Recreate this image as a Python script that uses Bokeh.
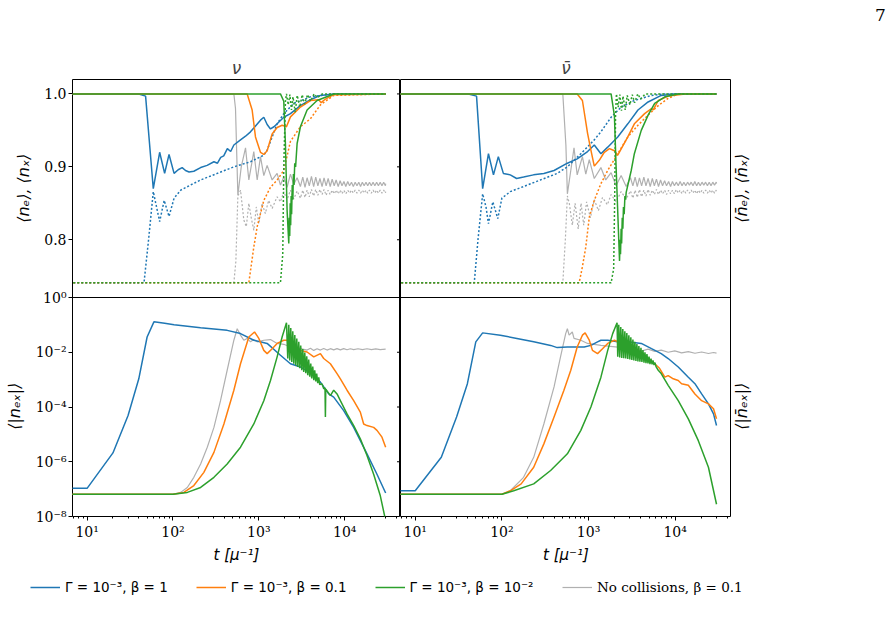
import math
from bokeh.plotting import figure
from bokeh.models import Range1d, LogScale, FixedTicker, Span, Legend, LegendItem
from bokeh.core.properties import value
from bokeh.layouts import row, column
from bokeh.embed import file_html
from bokeh.resources import INLINE

# ------------------------------------------------------------------ data
# t in units of 1/mu.  Upper panels: <n_e> (solid) and <n_x> (dotted);
# lower panels: <|n_ex|>.  "nu" = neutrinos, "nubar" = antineutrinos.

# ---- Gamma = 1e-3, beta = 1 (blue)
nu_blue_ne_t = [5, 40, 48, 59, 70, 80, 90, 103, 115, 128, 140, 154, 175, 210, 250, 300, 330, 360, 390, 430,
                470, 512, 612, 700, 800, 900, 1045, 1143, 1250, 1367, 1500, 1634, 1953, 2335, 3050, 3990, 5215, 7450, 30000]
nu_blue_ne = [1.0, 1.0, 0.997, 0.870, 0.920, 0.891, 0.917, 0.891, 0.896, 0.899, 0.895, 0.893, 0.894, 0.899, 0.902, 0.907,
              0.905, 0.913, 0.915, 0.925, 0.921, 0.930, 0.937, 0.942, 0.948, 0.955, 0.964, 0.968, 0.958, 0.952, 0.955,
              0.959, 0.968, 0.973, 0.984, 0.992, 0.998, 1.0, 1.0]
nu_blue_nx_t = [5, 46, 52, 59, 62, 70, 79, 90, 103, 123, 160, 210, 328, 512, 800, 1143, 1250, 1429, 1634, 1953,
                2553, 3990, 7450, 30000]
nu_blue_nx = [0.741, 0.741, 0.80, 0.866, 0.854, 0.825, 0.854, 0.832, 0.857, 0.868, 0.875, 0.882, 0.891, 0.900, 0.907,
              0.916, 0.923, 0.941, 0.959, 0.973, 0.987, 0.996, 1.0, 1.0]
nu_blue_nex_t = [5, 10, 20, 30, 40, 50, 60, 80, 103, 210, 428, 612, 874, 1250, 1786, 2335, 3050, 3990, 5215, 6517,
                 7450, 9736, 12730, 18190, 23770, 30000]
nu_blue_nex = [1.07e-7, 1.07e-7, 2.1e-6, 4.9e-5, 1.07e-3, 3.6e-2, 1.29e-1, 1.15e-1, 1.02e-1, 7.9e-2, 6.3e-2, 4.8e-2,
               2.75e-2, 2.1e-2, 7.8e-3, 3.8e-3, 2.9e-3, 1.74e-3, 8.1e-4, 3.0e-4, 2.3e-4, 7.4e-5, 1.8e-5, 1.95e-6,
               3.5e-7, 7.2e-8]

nubar_blue_ne_t = [5, 41, 51, 60, 70, 80, 91, 104, 125, 148, 178, 232, 305, 400, 570, 740, 975, 1165, 1390, 1665,
                   2173, 2840, 3720, 4870, 6900, 9900, 30000]
nubar_blue_ne = [1.0, 1.0, 0.997, 0.870, 0.918, 0.889, 0.914, 0.891, 0.889, 0.884, 0.886, 0.889, 0.891, 0.895, 0.905,
                 0.911, 0.921, 0.930, 0.918, 0.927, 0.941, 0.959, 0.978, 0.989, 0.998, 1.0, 1.0]
nubar_blue_nx_t = [5, 48, 53, 60, 65.6, 70, 78.6, 89.7, 100, 125, 178, 278, 436, 570, 815, 1165, 1390, 1822, 2378,
                   3380, 5330, 7600, 30000]
nubar_blue_nx = [0.741, 0.741, 0.80, 0.863, 0.845, 0.822, 0.852, 0.829, 0.857, 0.866, 0.873, 0.882, 0.891, 0.900,
                 0.918, 0.937, 0.948, 0.968, 0.982, 0.991, 0.998, 1.0, 1.0]
nubar_blue_nex_t = [5, 10, 20, 30, 40, 50, 60, 96, 149, 233, 365, 435, 570, 891, 1065, 1270, 1390, 1665, 2173, 2840,
                    4060, 5330, 6900, 8300, 10850, 14180, 16900, 20200, 24200, 27700, 30000]
nubar_blue_nex = [8.7e-8, 8.7e-8, 1.45e-6, 4.3e-5, 7.1e-4, 2.4e-2, 5.1e-2, 4.2e-2, 3.2e-2, 2.4e-2, 1.78e-2, 1.48e-2,
                  1.55e-2, 1.55e-2, 1.78e-2, 2.4e-2, 2.75e-2, 2.75e-2, 2.4e-2, 2.4e-2, 2.1e-2, 1.35e-2, 8.9e-3, 5.9e-3,
                  2.9e-3, 1.23e-3, 7.1e-4, 3.0e-4, 1.3e-4, 5.6e-5, 2.1e-5]

# ---- Gamma = 1e-3, beta = 0.1 (orange)
nu_orange_ne_t = [5, 732, 836, 914, 1045, 1143, 1250, 1429, 1634, 1867, 2099, 2335, 3050, 3990, 4988, 5330, 5960,
                  7450, 30000]
nu_orange_ne = [1.0, 1.0, 0.978, 0.941, 0.920, 0.917, 0.922, 0.945, 0.954, 0.957, 0.955, 0.9685, 0.982, 0.991, 0.992,
                0.988, 0.993, 0.999, 1.0]
nu_orange_nx_t = [5, 765, 874, 957, 1143, 1367, 1634, 1953, 2335, 3050, 3990, 5215, 7450, 30000]
nu_orange_nx = [0.741, 0.741, 0.790, 0.818, 0.854, 0.872, 0.882, 0.895, 0.935, 0.955, 0.966, 0.985, 0.998, 1.0]
nu_orange_nex_t = [5, 100, 134, 175, 229, 300, 392, 512, 612, 765, 891, 1000, 1143, 1250, 1429, 1634, 1953, 2135,
                   2335, 2553, 3050, 3648, 4363, 5215, 5700, 6813, 8145, 8906, 10646, 12730, 15210, 16630, 18190,
                   21740, 23770, 27180, 30000]
nu_orange_nex = [6.5e-8, 6.5e-8, 7.6e-8, 1.35e-7, 4.1e-7, 2.2e-6, 2.4e-5, 4.1e-4, 3.8e-3, 3.6e-2, 5.5e-2, 3.2e-2,
                 1.17e-2, 8.9e-3, 1.35e-2, 2.1e-2, 2.75e-2, 2.75e-2, 1.78e-2, 8.9e-3, 1.17e-2, 1.02e-2, 6.8e-3,
                 8.9e-3, 5.9e-3, 3.8e-3, 1.66e-3, 1.07e-3, 4.1e-4, 1.7e-4, 6.5e-5, 2.4e-5, 2.1e-5, 1.8e-5, 1.4e-5,
                 7.9e-6, 3.4e-6]

nubar_orange_ne_t = [5, 740, 850, 975, 1065, 1165, 1330, 1520, 1745, 1990, 2173, 2840, 3380, 4440, 5330, 5580, 6380,
                     8300, 13000, 30000]
nubar_orange_ne = [1.0, 1.0, 0.991, 0.946, 0.923, 0.901, 0.909, 0.920, 0.925, 0.922, 0.916, 0.941, 0.959, 0.973,
                   0.980, 0.978, 0.991, 0.997, 1.0, 1.0]
nubar_orange_nx_t = [5, 780, 850, 930, 1020, 1165, 1390, 1665, 2173, 2840, 3720, 4870, 6380, 8300, 10850, 30000]
nubar_orange_nx = [0.741, 0.741, 0.763, 0.790, 0.831, 0.854, 0.877, 0.895, 0.918, 0.941, 0.957, 0.971, 0.984, 0.994,
                   1.0, 1.0]
nubar_orange_nex_t = [5, 100, 125, 167, 233, 305, 400, 520, 624, 740, 850, 914, 1020, 1110, 1270, 1450, 1665, 1990,
                      2378, 2840, 3380, 4060, 4870, 5800, 6600, 7600, 8300, 9500, 10850, 11850, 14180, 16900, 20200,
                      24200, 27700, 30000]
nubar_orange_nex = [6.5e-8, 6.5e-8, 8.7e-8, 1.55e-7, 6.3e-7, 4.5e-6, 4.3e-5, 4.1e-4, 2.2e-3, 1.55e-2, 4.2e-2,
                    5.1e-2, 2.75e-2, 1.17e-2, 8.9e-3, 1.35e-2, 2.1e-2, 2.75e-2, 2.1e-2, 1.35e-2, 8.9e-3, 6.8e-3,
                    5.0e-3, 3.8e-3, 2.6e-3, 1.23e-3, 1.4e-3, 1.07e-3, 9.3e-4, 7.1e-4, 6.2e-4, 3.0e-4, 1.7e-4, 1.3e-4,
                    8.6e-5, 3.7e-5]

# ---- Gamma = 1e-3, beta = 1e-2 (green)
nu_green_ne_t = [5, 1786, 1953, 2042, 2135, 2233, 2260, 2290, 2320, 2350, 2380, 2410, 2450, 2490, 2530, 2570, 2620,
                 2680, 2792, 3050, 3648, 4770, 7450, 30000]
nu_green_ne = [1.0, 1.0, 0.99, 0.93, 0.84, 0.795, 0.83, 0.805, 0.85, 0.82, 0.86, 0.835, 0.875, 0.855, 0.89, 0.875,
               0.905, 0.90, 0.932, 0.955, 0.978, 0.991, 1.0, 1.0]
nu_green_nx_t = [5, 1786, 1900, 1953, 2042, 2099, 2200, 2300, 2400, 2500, 2650, 2800, 3000, 3200, 3400, 3700, 4000,
                 4400, 4800, 5500, 30000]
nu_green_nx = [0.741, 0.741, 0.78, 0.90, 0.99, 1.0, 0.985, 0.999, 0.978, 0.996, 0.975, 0.998, 0.982, 0.999, 0.986,
               0.999, 0.990, 1.0, 0.995, 1.0, 1.0]
nu_green_nex_t = [5, 100, 147, 210, 300, 428, 612, 874, 1143, 1367, 1634, 1867, 2100,
                  2173, 2233, 2291, 2355, 2420, 2485, 2553, 2624, 2692, 2767, 2841, 2919, 2999, 3076, 3162, 3251,
                  3334, 3428, 3524, 3614, 3715, 3811, 3917, 4027, 4130, 4246, 4365, 4477, 4603, 4721, 4853, 4989,
                  5117, 5450, 5700, 5900, 5960, 6020, 6813, 7450, 8145, 8906, 10646, 12730, 15210, 18190, 21740,
                  26000, 30000]
nu_green_nex = [6.5e-8, 6.5e-8, 7.6e-8, 1.15e-7, 2.7e-7, 8.3e-7, 3.4e-6, 2.4e-5, 1.7e-4, 9.3e-4, 6.8e-3, 3.6e-2,
                1.2e-1,
                5.9e-3, 1.0e-1, 5.0e-3, 7.7e-2, 4.4e-3, 5.8e-2, 3.8e-3, 4.3e-2, 3.3e-3, 3.2e-2, 2.9e-3, 2.4e-2,
                2.6e-3, 1.75e-2, 2.2e-3, 1.3e-2, 1.9e-3, 9.7e-3, 1.7e-3, 7.1e-3, 1.45e-3, 5.4e-3, 1.27e-3, 3.9e-3,
                1.1e-3, 3.0e-3, 9.6e-4, 2.2e-3, 8.6e-4, 1.66e-3, 7.5e-4, 1.2e-3, 6.6e-4, 7.0e-4, 4.6e-4, 5.0e-4,
                4.3e-5, 4.5e-4, 2.6e-4, 4.1e-4, 3.0e-4, 1.7e-4, 5.6e-5, 2.1e-5, 6.9e-6, 1.7e-6, 3.5e-7, 5.7e-8,
                7.0e-9]

nubar_green_ne_t = [5, 1822, 1990, 2080, 2280, 2310, 2340, 2378, 2410, 2450, 2490, 2530, 2580, 2630, 2680, 2720,
                    3110, 3380, 4060, 4870, 5800, 7600, 10850, 30000]
nubar_green_ne = [1.0, 1.0, 0.97, 0.90, 0.771, 0.80, 0.78, 0.815, 0.795, 0.83, 0.815, 0.845, 0.835, 0.86, 0.855,
                  0.865, 0.895, 0.918, 0.950, 0.971, 0.987, 0.996, 1.0, 1.0]
nubar_green_nx_t = [5, 1822, 1950, 2000, 2050, 2100, 2200, 2300, 2400, 2500, 2650, 2800, 3000, 3200, 3400, 3700,
                    4000, 4500, 30000]
nubar_green_nx = [0.741, 0.741, 0.76, 0.85, 0.97, 1.0, 0.982, 0.999, 0.977, 0.997, 0.978, 0.998, 0.985, 0.999,
                  0.988, 1.0, 0.993, 1.0, 1.0]
nubar_green_nex_t = [5, 100, 137, 233, 365, 570, 815, 1065, 1390, 1665, 1900, 2135,
                     2173, 2233, 2291, 2355, 2420, 2485, 2553, 2624, 2692, 2767, 2841, 2919, 2999, 3076, 3162, 3251,
                     3334, 3428, 3524, 3614, 3715, 3811, 3917, 4027, 4130, 4246, 4365, 4477, 4603, 4721, 4853, 4989,
                     5117, 5260, 5410, 5550, 5700, 5850, 6010, 6380, 6900, 8300, 10850, 14180, 18500, 24200, 30000]
nubar_green_nex = [6.5e-8, 6.5e-8, 8.7e-8, 1.55e-7, 4.8e-7, 1.95e-6, 1.4e-5, 1.0e-4, 1.23e-3, 1.17e-2, 4.8e-2,
                   1.2e-1,
                   6.8e-3, 1.0e-1, 6.5e-3, 8.4e-2, 6.2e-3, 7.0e-2, 6.0e-3, 5.8e-2, 5.9e-3, 5.0e-2, 5.7e-3, 4.2e-2,
                   5.4e-3, 3.5e-2, 5.2e-3, 2.9e-2, 5.0e-3, 2.4e-2, 4.8e-3, 2.0e-2, 4.6e-3, 1.7e-2, 4.5e-3, 1.45e-2,
                   4.4e-3, 1.2e-2, 4.2e-3, 1.0e-2, 4.0e-3, 8.5e-3, 3.9e-3, 7.0e-3, 3.7e-3, 5.9e-3, 3.6e-3, 5.0e-3,
                   3.4e-3, 4.2e-3, 3.0e-3, 2.2e-3, 1.66e-3, 6.2e-4, 1.7e-4, 3.7e-5, 5.9e-6, 6.3e-7, 2.8e-8]

# ---- no collisions, beta = 0.1 (gray)
gray_tail_t = [3050, 3250, 3450, 3650, 3870, 4100, 4350, 4600, 4870, 5150, 5450, 5750, 6080, 6420, 6780, 7150,
               7550, 7950, 8400, 8850, 9300, 9800, 10300, 10850, 11400, 12000, 12600, 13250, 13900, 14600, 15300,
               16050, 16850, 17700, 18550, 19450, 20400, 21400, 22450, 23550, 24700, 25900, 27150, 28450, 29800,
               30000]

nu_gray_ne_t = [5, 512, 535, 570, 624, 700, 765, 874, 957, 1045, 1143, 1250, 1429, 1634, 1786, 1953, 2135, 2335,
                2553, 2792] + gray_tail_t
nu_gray_ne = [1.0, 1.0, 0.98, 0.861, 0.900, 0.926, 0.882, 0.921, 0.882, 0.914, 0.888, 0.902, 0.882, 0.891, 0.875,
              0.886, 0.872, 0.890, 0.876, 0.885,
              0.873, 0.886, 0.872, 0.885, 0.874, 0.887, 0.873, 0.886, 0.874, 0.884,
              0.873, 0.885, 0.874, 0.884, 0.873, 0.883, 0.874, 0.882, 0.873, 0.881,
              0.874, 0.880, 0.873, 0.880, 0.874, 0.879, 0.873, 0.879, 0.874, 0.879,
              0.873, 0.879, 0.874, 0.879, 0.874, 0.879, 0.874, 0.879, 0.874, 0.879,
              0.874, 0.879, 0.874, 0.879, 0.874, 0.877]
nu_gray_nx_t = [5, 512, 540, 570, 612, 669, 715, 765, 810, 874, 935, 1000, 1090, 1190, 1300, 1429, 1634, 1786, 1953,
                2135, 2335, 2553, 2792] + gray_tail_t
nu_gray_nx = [0.741, 0.741, 0.77, 0.860, 0.868, 0.827, 0.818, 0.850, 0.832, 0.813, 0.845, 0.822, 0.850, 0.836, 0.854,
              0.843, 0.859, 0.852, 0.866, 0.855, 0.868, 0.856, 0.867,
              0.857, 0.868, 0.858, 0.868, 0.859, 0.869, 0.860, 0.869, 0.861, 0.869,
              0.862, 0.869, 0.861, 0.868, 0.862, 0.868, 0.863, 0.868, 0.863, 0.868,
              0.863, 0.868, 0.863, 0.868, 0.864, 0.868, 0.864, 0.868, 0.864, 0.868,
              0.864, 0.868, 0.864, 0.868, 0.864, 0.868, 0.864, 0.868, 0.864, 0.868,
              0.864, 0.868, 0.864, 0.868, 0.864, 0.866]
nu_gray_nex_t = [5, 100, 123, 147, 175, 210, 251, 300, 358, 428, 512, 560, 612, 669, 732, 800, 874, 957, 1143, 1367,
                 1634, 1953, 2335, 3050, 3648, 3990, 4363, 4770, 5215, 5700, 6230, 6813, 7450, 8145, 8906, 9736,
                 10646, 11640, 12730, 14300, 16100, 18200, 20500, 23000, 25900, 30000]
nu_gray_nex = [6.5e-8, 6.5e-8, 7.6e-8, 1.15e-7, 2.7e-7, 8.3e-7, 3.4e-6, 1.8e-5, 1.7e-4, 2.2e-3, 2.75e-2, 7.2e-2,
               4.2e-2, 2.75e-2, 3.2e-2, 2.4e-2, 2.9e-2, 2.4e-2, 2.75e-2, 2.9e-2, 2.1e-2, 1.95e-2, 1.55e-2, 1.35e-2,
               1.2e-2, 1.4e-2, 1.17e-2, 1.35e-2, 1.2e-2, 1.38e-2, 1.2e-2, 1.35e-2, 1.22e-2, 1.36e-2, 1.22e-2,
               1.35e-2, 1.23e-2, 1.34e-2, 1.24e-2, 1.34e-2, 1.24e-2, 1.34e-2, 1.25e-2, 1.33e-2, 1.25e-2, 1.29e-2]

nubar_gray_ne_t = [5, 505, 548, 570, 624, 680, 740, 850, 930, 1020, 1165, 1390, 1580, 1822, 2080, 2378,
                   2720] + gray_tail_t
nubar_gray_ne = [1.0, 1.0, 0.93, 0.863, 0.895, 0.926, 0.889, 0.914, 0.890, 0.910, 0.884, 0.899, 0.882, 0.892, 0.874,
                 0.888, 0.873,
                 0.885, 0.874, 0.886, 0.873, 0.885, 0.874, 0.886, 0.874, 0.884, 0.873,
                 0.884, 0.874, 0.883, 0.873, 0.882, 0.874, 0.881, 0.874, 0.880, 0.873,
                 0.880, 0.874, 0.879, 0.874, 0.880, 0.874, 0.879, 0.874, 0.879, 0.875,
                 0.879, 0.874, 0.880, 0.874, 0.879, 0.874, 0.879, 0.875, 0.879, 0.874,
                 0.879, 0.874, 0.879, 0.875, 0.879, 0.877]
nubar_gray_nx_t = [5, 505, 540, 570, 600, 650, 700, 760, 820, 880, 950, 1050, 1165, 1300, 1450, 1650, 1822, 2080,
                   2378, 2720] + gray_tail_t
nubar_gray_nx = [0.741, 0.741, 0.80, 0.860, 0.850, 0.820, 0.850, 0.815, 0.850, 0.820, 0.852, 0.830, 0.855, 0.840,
                 0.858, 0.848, 0.862, 0.852, 0.866, 0.856,
                 0.867, 0.857, 0.868, 0.858, 0.869, 0.859, 0.868, 0.860, 0.869, 0.861,
                 0.868, 0.862, 0.869, 0.862, 0.868, 0.863, 0.868, 0.862, 0.868, 0.863,
                 0.868, 0.863, 0.869, 0.864, 0.868, 0.863, 0.868, 0.864, 0.868, 0.864,
                 0.868, 0.864, 0.868, 0.863, 0.868, 0.864, 0.868, 0.864, 0.868, 0.864,
                 0.868, 0.864, 0.868, 0.864, 0.868, 0.866]
nubar_gray_nex_t = [5, 100, 125, 178, 233, 305, 400, 475, 545, 570, 597, 650, 680, 815, 975, 1390, 2173, 3380, 4060,
                    4870, 5800, 6900, 8300, 9900, 11850, 14180, 16900, 20200, 24200, 27700, 30000]
nubar_gray_nex = [6.5e-8, 6.5e-8, 8.7e-8, 2.7e-7, 1.45e-6, 2.4e-5, 5.4e-4, 6.8e-3, 4.8e-2, 7.2e-2, 4.2e-2, 5.5e-2,
                  3.2e-2, 2.75e-2, 2.1e-2, 1.78e-2, 1.55e-2, 1.35e-2, 1.1e-2, 1.3e-2, 1.08e-2, 1.2e-2, 1.0e-2,
                  1.12e-2, 9.5e-3, 1.06e-2, 9.2e-3, 1.02e-2, 9.0e-3, 9.8e-3, 9.3e-3]

# tick labels and texts
x_ticks = [10, 100, 1000, 10000]
x_tick_labels = ["10¹", "10²", "10³", "10⁴"]
n_ticks = [0.8, 0.9, 1.0]
n_tick_labels = ["0.8", "0.9", "1.0"]
ex_tick_exps = [-8, -6, -4, -2, 0]
ex_tick_labels = ["10⁻⁸", "10⁻⁶", "10⁻⁴", "10⁻²", "10⁰"]
legend_labels = ["Γ = 10⁻³, β = 1", "Γ = 10⁻³, β = 0.1", "Γ = 10⁻³, β = 10⁻²", "No collisions, β = 0.1"]
page_number = "7"

# ------------------------------------------------------------------ styling / geometry
BLUE, ORANGE, GREEN, GRAY = "#1f77b4", "#ff7f0e", "#2ca02c", "#b0b0b0"
T_MIN, T_MAX = 10 ** 0.83, 10 ** 4.65
N_LO, N_HI = 0.7208, 1.0198          # linear range of the upper panels
EX_LO, EX_HI = -8.0, 0.0             # log10 range of the lower panels
TOP_H, BOT_H = 218, 219              # frame heights of upper / lower panels
FRAME_H = TOP_H + BOT_H
FW_L, FW_R = 328, 331                # frame widths of the two columns
HEAD_H = 30                          # strip above the panels carrying the page number
BORDER_TOP, BORDER_BOTTOM = 49, 49
FIG_H = BORDER_TOP + FRAME_H + BORDER_BOTTOM
STRIP_L, STRIP_R = 32, 163           # side strips holding the y labels
AXIS_W = 40                          # room for the left tick labels

s_lin = (N_HI - N_LO) / TOP_H        # linear units per pixel
Y0 = N_LO - BOT_H * s_lin            # linear value at the very bottom of the column frame
EX_TOP = EX_HI + TOP_H * (EX_HI - EX_LO) / BOT_H   # log10 value at the top of the column frame


def ex_to_lin(e):
    """Position on the linear (upper-panel) scale that shares the pixel row of 10**e."""
    return Y0 + (e - EX_LO) / (EX_TOP - EX_LO) * (N_HI - Y0)


def x_at(px, fw):
    """Time value lying px pixels right of the frame's left edge."""
    lo, hi = math.log10(T_MIN), math.log10(T_MAX)
    return 10 ** (lo + px * (hi - lo) / fw)


y_tick_pos = list(n_ticks) + [ex_to_lin(e) for e in ex_tick_exps]
y_tick_txt = list(n_tick_labels) + list(ex_tick_labels)
x_minor = [m * 10 ** k for k in range(0, 5) for m in range(2, 10)]


def make_column(title, fw, left_border, show_yaxis):
    p = figure(frame_width=fw, frame_height=FRAME_H, x_axis_type="log",
               x_range=Range1d(T_MIN, T_MAX), y_range=Range1d(Y0, N_HI),
               y_axis_location="left" if show_yaxis else None,
               min_border_left=left_border, min_border_right=0,
               min_border_top=BORDER_TOP, min_border_bottom=BORDER_BOTTOM,
               output_backend="svg", toolbar_location=None, title=title)
    p.extra_y_ranges = {"ex": Range1d(10 ** EX_LO, 10 ** EX_TOP)}
    p.extra_y_scales = {"ex": LogScale()}
    p.grid.visible = False
    p.outline_line_color = "black"
    p.outline_line_width = 1

    p.title.align = "center"
    p.title.text_font = "DejaVu Sans"
    p.title.text_font_style = "italic"
    p.title.text_font_size = "17px"
    p.title.standoff = 4

    xa = p.xaxis[0]
    xa.ticker = FixedTicker(ticks=x_ticks, minor_ticks=x_minor)
    xa.major_label_overrides = dict(zip(x_ticks, x_tick_labels))
    xa.major_label_text_font = "DejaVu Serif"
    xa.major_label_text_font_size = "14px"
    xa.major_label_text_color = "black"
    xa.major_label_standoff = 3
    xa.axis_line_color = None
    xa.major_tick_out, xa.major_tick_in = 4, 0
    xa.minor_tick_out, xa.minor_tick_in = 2, 0
    xa.major_tick_line_color = "black"
    xa.minor_tick_line_color = "black"
    xa.axis_label = "t [μ⁻¹]"
    xa.axis_label_text_font = "DejaVu Sans"
    xa.axis_label_text_font_style = "italic"
    xa.axis_label_text_font_size = "15px"
    xa.axis_label_text_color = "black"
    xa.axis_label_standoff = 3

    if show_yaxis:
        ya = p.yaxis[0]
        ya.ticker = FixedTicker(ticks=y_tick_pos)
        ya.major_label_overrides = dict(zip(y_tick_pos, y_tick_txt))
        ya.major_label_text_font = "DejaVu Serif"
        ya.major_label_text_font_size = "14px"
        ya.major_label_text_color = "black"
        ya.major_label_standoff = 2
        ya.axis_line_color = None
        ya.major_tick_out, ya.major_tick_in = 4, 0
        ya.major_tick_line_color = "black"
        ya.minor_tick_line_color = None

    # boundary between the upper and the lower panel
    p.add_layout(Span(location=N_LO, dimension="width", line_color="black", line_width=1))
    return p


def draw(p, t, v, color, dotted=False, lower=False, width=1.5):
    kw = dict(line_color=color, line_width=width)
    if dotted:
        kw["line_dash"] = "2 2"
    if lower:
        kw["y_range_name"] = "ex"
    return p.line(t, v, **kw)


def fill_column(p, side):
    d = globals()
    for name, color, w in (("gray", GRAY, 1.2), ("blue", BLUE, 1.5), ("orange", ORANGE, 1.5), ("green", GREEN, 1.5)):
        pre = f"{side}_{name}"
        draw(p, d[pre + "_ne_t"], d[pre + "_ne"], color, width=w)
        draw(p, d[pre + "_nx_t"], d[pre + "_nx"], color, dotted=True, width=w)
        draw(p, d[pre + "_nex_t"], d[pre + "_nex"], color, lower=True, width=w)


def blank_figure(width, height, **kw):
    s = figure(width=width, height=height, x_axis_location=None, y_axis_location=None, min_border=0,
               output_backend="svg", toolbar_location=None, **kw)
    s.grid.visible = False
    s.outline_line_color = None
    return s


def make_strip(width):
    # the row aligns this strip's frame with the panel frames, so its y range spans the frame only
    return blank_figure(width, FIG_H, x_range=Range1d(0, width), y_range=Range1d(0, FRAME_H),
                        min_border_top=BORDER_TOP, min_border_bottom=BORDER_BOTTOM)


def vlabel(s, x, y, text):
    s.text(x=[x], y=[y], text=[text], angle=math.pi / 2, text_align="center", text_baseline="middle",
           text_font=value("DejaVu Sans"), text_font_style="italic", text_font_size="16px", text_color="black")


# vertical centres of the two panel rows, measured from the bottom of the frames
Y_UPPER = BOT_H + TOP_H / 2
Y_LOWER = BOT_H / 2

# ------------------------------------------------------------------ page header
head = blank_figure(894, HEAD_H, x_range=Range1d(0, 894), y_range=Range1d(0, HEAD_H))
head.text(x=[880], y=[HEAD_H - 14.5], text=[page_number], text_align="center", text_baseline="middle",
          text_font=value("DejaVu Serif"), text_font_size="17px", text_color="black")

# ------------------------------------------------------------------ neutrino column
p_nu = make_column("ν", FW_L, AXIS_W, True)
fill_column(p_nu, "nu")
# ticks of the neighbouring panel's left spine, pointing into this panel
tick_x0 = x_at(FW_L - 3.5, FW_L)
p_nu.segment(x0=[tick_x0] * len(y_tick_pos), y0=y_tick_pos, x1=[T_MAX] * len(y_tick_pos), y1=y_tick_pos,
             line_color="black", line_width=1)

strip_l = make_strip(STRIP_L)
vlabel(strip_l, 23, Y_UPPER, "⟨nₑ⟩, ⟨nₓ⟩")
vlabel(strip_l, 14, Y_LOWER, "⟨|nₑₓ|⟩")

# ------------------------------------------------------------------ antineutrino column
p_nubar = make_column("ν̄", FW_R, 0, False)
fill_column(p_nubar, "nubar")

strip_r = make_strip(STRIP_R)
vlabel(strip_r, 10, Y_UPPER, "⟨n̄ₑ⟩, ⟨n̄ₓ⟩")
vlabel(strip_r, 10, Y_LOWER, "⟨|n̄ₑₓ|⟩")

# ------------------------------------------------------------------ legend strip
p_leg = blank_figure(894, 70, x_range=Range1d(-1, 0), y_range=Range1d(0, 1))
# handle renderers reuse the upper-panel series; their t values lie outside this strip's x range
handles = [p_leg.line(t, v, line_color=c, line_width=w)
           for t, v, c, w in ((nu_blue_ne_t, nu_blue_ne, BLUE, 1.5), (nu_orange_ne_t, nu_orange_ne, ORANGE, 1.5),
                              (nu_green_ne_t, nu_green_ne, GREEN, 1.5), (nu_gray_ne_t, nu_gray_ne, GRAY, 1.2))]
leg_style = dict(orientation="horizontal", glyph_width=30, glyph_height=20, label_height=20, label_standoff=5,
                 spacing=28, padding=0, margin=0, border_line_color=None, background_fill_alpha=0,
                 label_text_font_size="13.5px", label_text_color="black")
leg_a = Legend(items=[LegendItem(label=legend_labels[i], renderers=[handles[i]]) for i in range(3)],
               location=(30, 39), label_text_font="DejaVu Sans", **leg_style)
leg_b = Legend(items=[LegendItem(label=legend_labels[3], renderers=[handles[3]])],
               location=(562, 39), label_text_font="DejaVu Serif", **leg_style)
p_leg.add_layout(leg_a)
p_leg.add_layout(leg_b)

layout = column(head, row(strip_l, p_nu, p_nubar, strip_r), p_leg)
open("out.html", "w").write(file_html(layout, INLINE))
